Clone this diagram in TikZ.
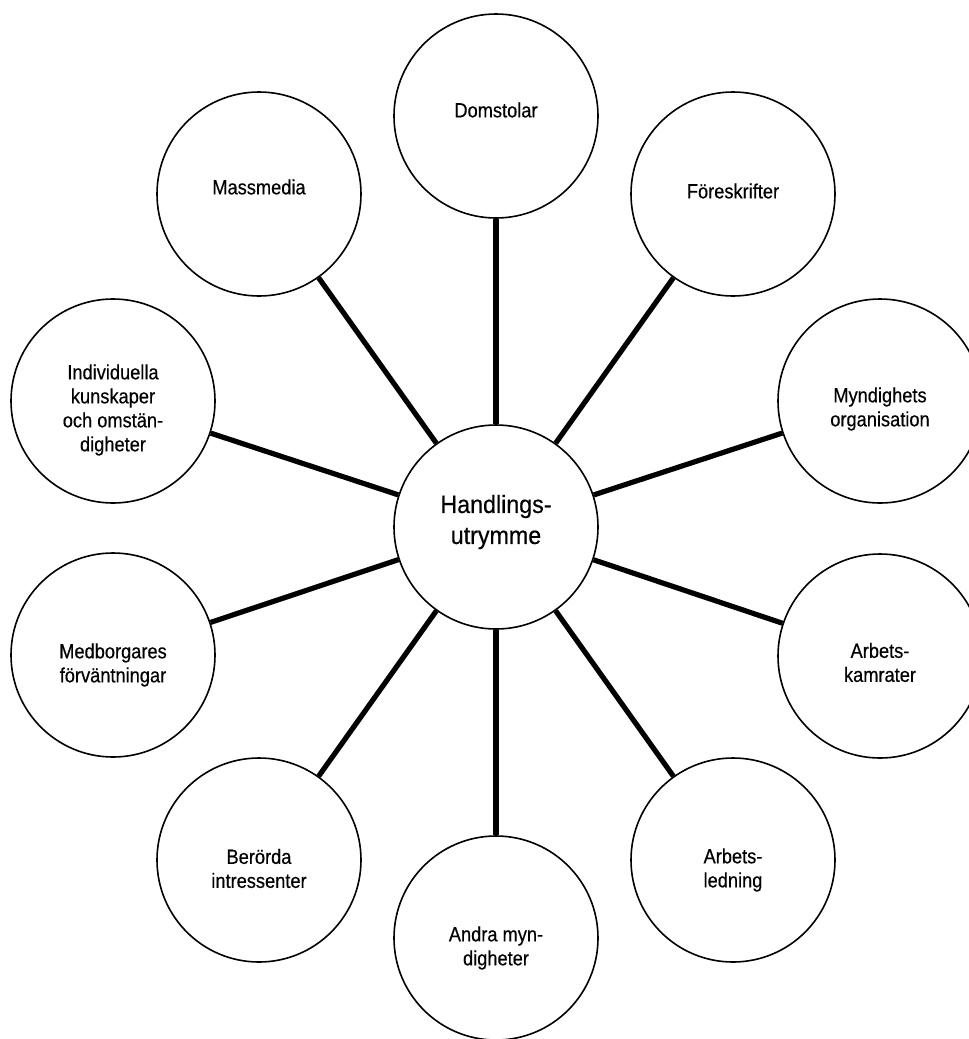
\documentclass[tikz,border=0pt]{standalone}
\usepackage{fontspec}
\setmainfont{Liberation Sans}[FakeStretch=0.89,FakeBold=0.4]
\newfontfamily\bigfont{Liberation Sans}[FakeStretch=0.93,FakeBold=0.4]
\begin{document}
\begin{tikzpicture}[x=1pt,y=-1pt,
  bubble/.style={circle,draw,line width=1.6pt,minimum size=204pt,inner sep=0pt},
  spoke/.style={line width=5.2pt},
  txt/.style={align=center,font=\fontsize{20.5}{24}\selectfont,inner sep=0pt},
  bigtxt/.style={align=center,font=\bigfont\fontsize{25}{31}\selectfont,inner sep=0pt}]
\useasboundingbox (0,0) rectangle (969,1039);
\clip (0,0) rectangle (969,1039);
\node[bubble,label={[bigtxt,yshift=5pt]center:Handlings-\\utrymme}] (c) at (496,527) {};
\node[bubble,label={[txt,yshift=6pt]center:Domstolar}] (dom) at (496,116) {};
\node[bubble,label={[txt,yshift=3pt]center:Föreskrifter}] (for) at (733,194) {};
\node[bubble,label={[txt,yshift=-8pt]center:Myndighets\\organisation}] (myn) at (880,401) {};
\node[bubble,label={[txt,yshift=-6.5pt]center:Arbets-\\kamrater}] (kam) at (880,656) {};
\node[bubble,label={[txt,yshift=-10pt]center:Arbets-\\ledning}] (led) at (733,860) {};
\node[bubble,label={[txt,yshift=-10pt]center:Andra myn-\\digheter}] (and) at (496,938) {};
\node[bubble,label={[txt,yshift=-8.5pt]center:Berörda\\intressenter}] (ber) at (259,860) {};
\node[bubble,label={[txt,yshift=-10pt]center:Medborgares\\förväntningar}] (med) at (113,655) {};
\node[bubble,label={[txt,yshift=-9pt]center:Individuella\\kunskaper\\och omstän-\\digheter}] (ind) at (113,401) {};
\node[bubble,label={[txt,yshift=7pt]center:Massmedia}] (mas) at (259,194) {};
\foreach \n in {dom,for,myn,kam,led,and,ber,med,ind,mas}
  \draw[spoke] (c) -- (\n);
\end{tikzpicture}
\end{document}
